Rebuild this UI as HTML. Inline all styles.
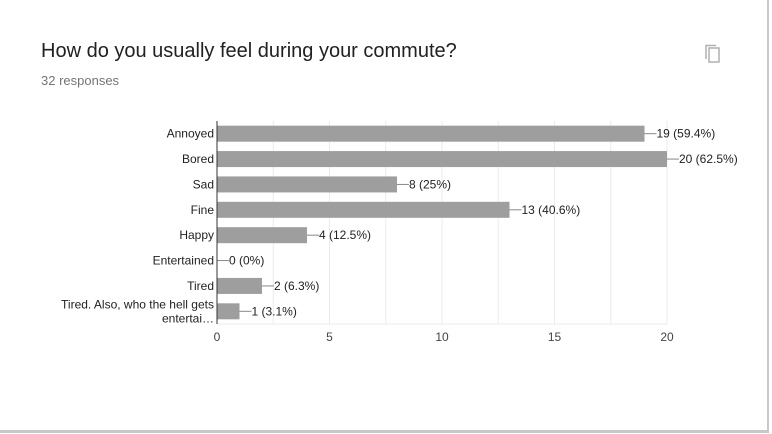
<!DOCTYPE html>
<html><head><meta charset="utf-8"><style>
body{margin:0;width:772px;height:434px;background:#fff;overflow:hidden;font-family:"Liberation Sans",Arial,sans-serif;}
#card{position:absolute;left:0;top:0;width:767px;height:430px;border-right:2px solid #c8c8c8;border-bottom:3px solid #c8c8c8;}
#title{position:absolute;left:41px;top:40px;font-size:20px;color:#212121;}
#sub{position:absolute;left:41px;top:73px;font-size:13px;color:#757575;}
</style></head><body>
<div id="card"></div>
<div id="title">How do you usually feel during your commute?</div>
<div id="sub">32 responses</div>
<svg style="position:absolute;left:704px;top:44px" width="18" height="20" viewBox="0 0 18 20">
<rect x="5" y="4" width="10" height="14" fill="none" stroke="#b0b0b0" stroke-width="1.5"/>
<path d="M2 15 V1.5 H12" fill="none" stroke="#b0b0b0" stroke-width="1.5"/>
</svg>
<svg id="chart" width="772" height="434" style="position:absolute;left:0;top:0"></svg>
<script>
const categories=["Annoyed","Bored","Sad","Fine","Happy","Entertained","Tired","Tired. Also, who the hell gets|entertai…"];
const counts=[19,20,8,13,4,0,2,1];
const percents=["59.4%","62.5%","25%","40.6%","12.5%","0%","6.3%","3.1%"];
const ticks=[0,5,10,15,20];
const gridVals=[2.5,5,7.5,10,12.5,15,17.5,20];
const svg=document.getElementById('chart');
const NS='http://www.w3.org/2000/svg';
const x0=217,x1=667,xmax=20,plotTop=121,plotBottom=324;
const X=v=>x0+(x1-x0)*v/xmax;
const rowH=(plotBottom-plotTop)/categories.length;
const Y=i=>plotTop+rowH*(i+0.5);
function mk(t,a){const e=document.createElementNS(NS,t);for(const k in a)e.setAttribute(k,a[k]);svg.appendChild(e);return e;}
gridVals.forEach(v=>{const l=mk('line',{x1:X(v),x2:X(v),y1:plotTop,y2:plotBottom,stroke:'#ebebeb'});

});
mk('line',{x1:x0,x2:x1,y1:plotBottom,y2:plotBottom,stroke:'#ebebeb'});
ticks.forEach(v=>{const t=mk('text',{x:X(v),y:plotBottom+17,'text-anchor':'middle','font-size':12,fill:'#444'});t.textContent=v;

});
categories.forEach((c,i)=>{
 const y=Y(i),w=X(counts[i])-x0;
 const r=mk('rect',{x:x0,y:y-8,width:w,height:16,fill:'#9e9e9e'});
 
 
 const parts=c.split('|');
 parts.forEach((p,j)=>{const t=mk('text',{x:x0-3,y:y+4+(parts.length>1?(j-0.5)*14:0),'text-anchor':'end','font-size':12,fill:'#222'});t.textContent=p;
 
 });
 const ex=X(counts[i]);
 mk('line',{x1:ex,x2:ex+12,y1:y,y2:y,stroke:'#888'});
 const t=mk('text',{x:ex+12,y:y+4,'font-size':12,fill:'#222'});t.textContent=counts[i]+' ('+percents[i]+')';
 
 
});
const ax=mk('line',{x1:x0,x2:x0,y1:plotTop,y2:plotBottom,stroke:'#333'});


</script>
</body></html>
